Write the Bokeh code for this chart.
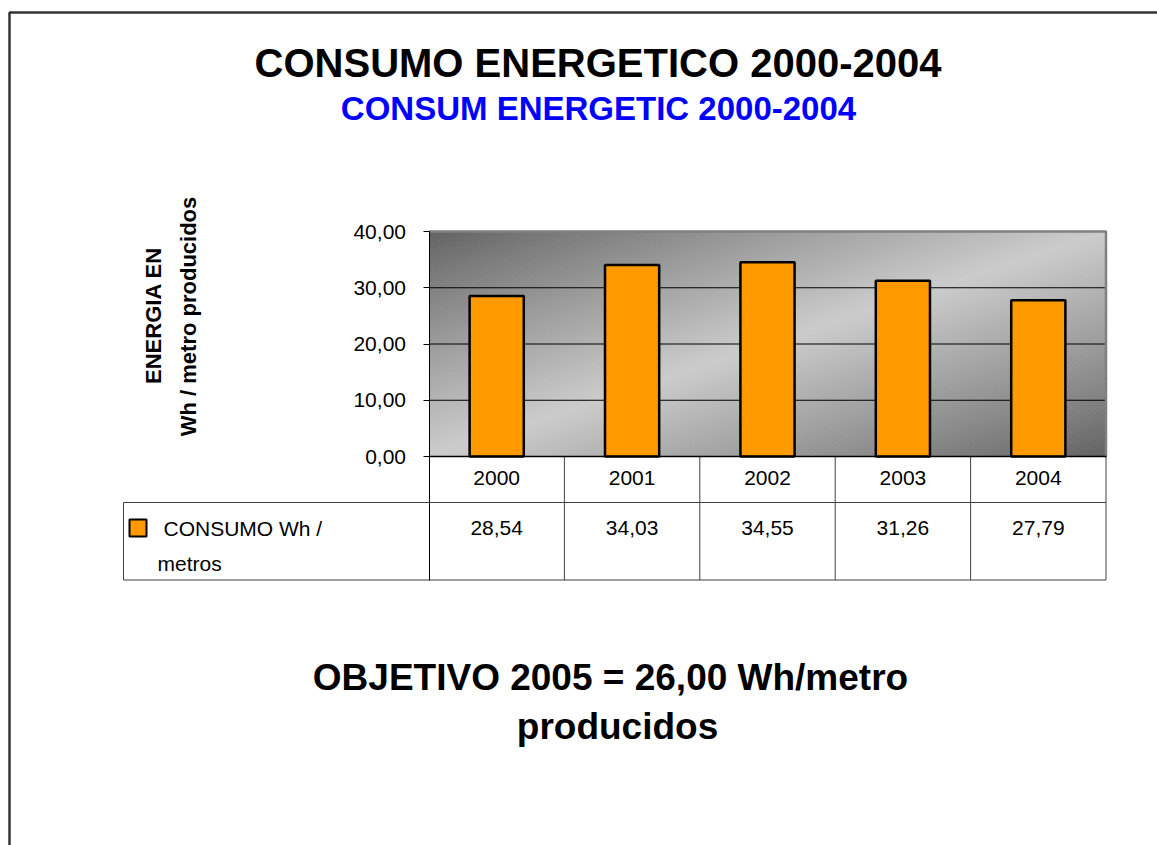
import numpy as np
from bokeh.plotting import figure
from bokeh.models import Range1d, LinearAxis, FixedTicker, CustomJSTickFormatter
from bokeh.core.properties import value
from bokeh.embed import file_html
from bokeh.resources import INLINE

# ---------------- data ----------------
years = ["2000", "2001", "2002", "2003", "2004"]
consumo = [28.54, 34.03, 34.55, 31.26, 27.79]
y_ticks = [0, 10, 20, 30, 40]
series_lines = ["CONSUMO Wh /", "metros"]
title_text = "CONSUMO ENERGETICO 2000-2004"
subtitle_text = "CONSUM ENERGETIC 2000-2004"
y_label_lines = ["ENERGIA EN", "Wh / metro producidos"]
objective_lines = ["OBJETIVO 2005 = 26,00 Wh/metro", "producidos"]

# ---------------- layout (page pixels -> data units) ----------------
W, H = 1157, 845
PAGE = 0
PX_X0 = 428.5          # page x of plot-area left edge (x = -0.5)
PX_PER_X = 135.4       # pixels per category
PX_Y0 = 456.0          # page y of value 0
PX_PER_Y = 225.0 / 40  # pixels per unit of value
FONT = value("Liberation Sans")


def X(px):
    return -0.5 + (px - PX_X0) / PX_PER_X


def Y(py):
    return (PX_Y0 - py) / PX_PER_Y


n = len(years)
xs = list(range(n))

p = figure(width=W, height=H, output_backend="svg", toolbar_location=None, tools="",
           x_range=Range1d(X(PAGE), X(PAGE + W)), y_range=Range1d(Y(PAGE + H), Y(PAGE)),
           x_axis_type=None, y_axis_type=None, min_border=0)
p.outline_line_color = None
p.background_fill_color = "white"
p.border_fill_color = "white"

# ---------------- plot-area gradient background ----------------
nx, ny = 677, 225
u = np.linspace(0, 1, nx)[None, :]
v_top = np.linspace(1, 0, ny)[:, None]
t = (u + v_top) / 2
k = 1 - np.abs(2 * t - 1)
k = np.clip(k, 0, 1) ** 0.9
dark, light = 92, 202
g = (dark + (light - dark) * k).astype(np.uint8)
img = np.empty((ny, nx), dtype=np.uint32)
view = img.view(dtype=np.uint8).reshape((ny, nx, 4))
view[..., 0] = g
view[..., 1] = g
view[..., 2] = g
view[..., 3] = 255
p.image_rgba(image=[img], x=-0.5, y=0, dw=n, dh=y_ticks[-1])
p.quad(left=-0.5, right=n - 0.5, bottom=0, top=y_ticks[-1], fill_alpha=0,
       hatch_pattern="/", hatch_color="white", hatch_alpha=0.10, hatch_scale=5,
       hatch_weight=1, line_color=None)

# grid lines
mid_ticks = y_ticks[1:-1]
p.segment(x0=[-0.5] * len(mid_ticks), x1=[n - 0.5] * len(mid_ticks), y0=mid_ticks, y1=mid_ticks,
          line_color="black", line_width=1)
# plot-area border (top & right)
p.line(x=[-0.5, n - 0.5, n - 0.5], y=[y_ticks[-1], y_ticks[-1], 0], line_color="#808080", line_width=2.5)

# ---------------- bars ----------------
p.vbar(x=xs, top=consumo, bottom=0, width=0.40, fill_color="#FF9900",
       line_color="black", line_width=2.5)

# ---------------- axes ----------------
yaxis = LinearAxis(fixed_location=-0.5, ticker=FixedTicker(ticks=y_ticks),
                   formatter=CustomJSTickFormatter(code="return tick.toFixed(2).replace('.', ',')"),
                   bounds=(Y(580), y_ticks[-1]))
yaxis.major_tick_out = 6
yaxis.major_tick_in = 0
yaxis.minor_tick_out = 0
yaxis.minor_tick_in = 0
yaxis.minor_tick_line_color = None
yaxis.axis_line_color = "black"
yaxis.major_tick_line_color = "black"
yaxis.major_label_text_font = "Liberation Sans"
yaxis.major_label_text_font_size = "21px"
yaxis.major_label_text_color = "black"
yaxis.major_label_standoff = 17
p.add_layout(yaxis, "left")

xaxis = LinearAxis(fixed_location=0, ticker=FixedTicker(ticks=xs),
                   formatter=CustomJSTickFormatter(args=dict(labels=years),
                                                   code="return labels[Math.round(tick)]"),
                   bounds=(-0.5, n - 0.5))
xaxis.major_tick_out = 0
xaxis.major_tick_in = 0
xaxis.minor_tick_out = 0
xaxis.minor_tick_in = 0
xaxis.major_tick_line_color = None
xaxis.minor_tick_line_color = None
xaxis.axis_line_color = "black"
xaxis.axis_line_width = 1.5
xaxis.major_label_text_font = "Liberation Sans"
xaxis.major_label_text_font_size = "21px"
xaxis.major_label_text_color = "black"
xaxis.major_label_standoff = 14
p.add_layout(xaxis, "below")

# ---------------- data table ----------------
TABLE_COLOR = "#404040"
row_y = Y(502)
bot_y = Y(579.5)
left_x = X(123)
inner = [i + 0.5 for i in range(n - 1)]
p.segment(x0=inner + [n - 0.5], x1=inner + [n - 0.5], y0=[0] * n, y1=[bot_y] * n,
          line_color=TABLE_COLOR, line_width=1)
p.segment(x0=[left_x, left_x, left_x], x1=[n - 0.5, n - 0.5, left_x],
          y0=[row_y, bot_y, row_y], y1=[row_y, bot_y, bot_y],
          line_color=TABLE_COLOR, line_width=1)

value_labels = [f"{v:.2f}".replace(".", ",") for v in consumo]
p.text(x=xs, y=[Y(527)] * n, text=value_labels, text_font=FONT, text_font_size="21px",
       text_align="center", text_baseline="middle", text_color="black")

# legend key
p.scatter(x=[X(137.5)], y=[Y(527.5)], marker="square", size=17, fill_color="#FF9900",
          line_color="black", line_width=2)
p.text(x=[X(163), X(157)], y=[Y(527.5), Y(563)], text=series_lines, text_font=FONT,
       text_font_size="21px", text_align="left", text_baseline="middle", text_color="black")

# ---------------- titles & texts ----------------
p.text(x=[X(597.5)], y=[Y(62)], text=[title_text], text_font=FONT, text_font_size="40px",
       text_font_style="bold", text_align="center", text_baseline="middle", text_color="black")
p.text(x=[X(598)], y=[Y(107.5)], text=[subtitle_text], text_font=FONT, text_font_size="33px",
       text_font_style="bold", text_align="center", text_baseline="middle", text_color="#0000FF")
p.text(x=[X(153), X(188)], y=[Y(315), Y(316)], text=y_label_lines, text_font=FONT,
       text_font_size="22px", text_font_style="bold", text_align="center",
       text_baseline="middle", text_color="black", angle=np.pi / 2)
p.text(x=[X(610), X(617)], y=[Y(677), Y(726)], text=objective_lines, text_font=FONT,
       text_font_size="37px", text_font_style="bold", text_align="center",
       text_baseline="middle", text_color="black")

# slide border (left & top)
p.line(x=[X(9), X(9), X(PAGE + W + 5)], y=[Y(PAGE + H + 5), Y(12), Y(12)],
       line_color="#333333", line_width=2.5)

open("out.html", "w").write(file_html(p, INLINE))
